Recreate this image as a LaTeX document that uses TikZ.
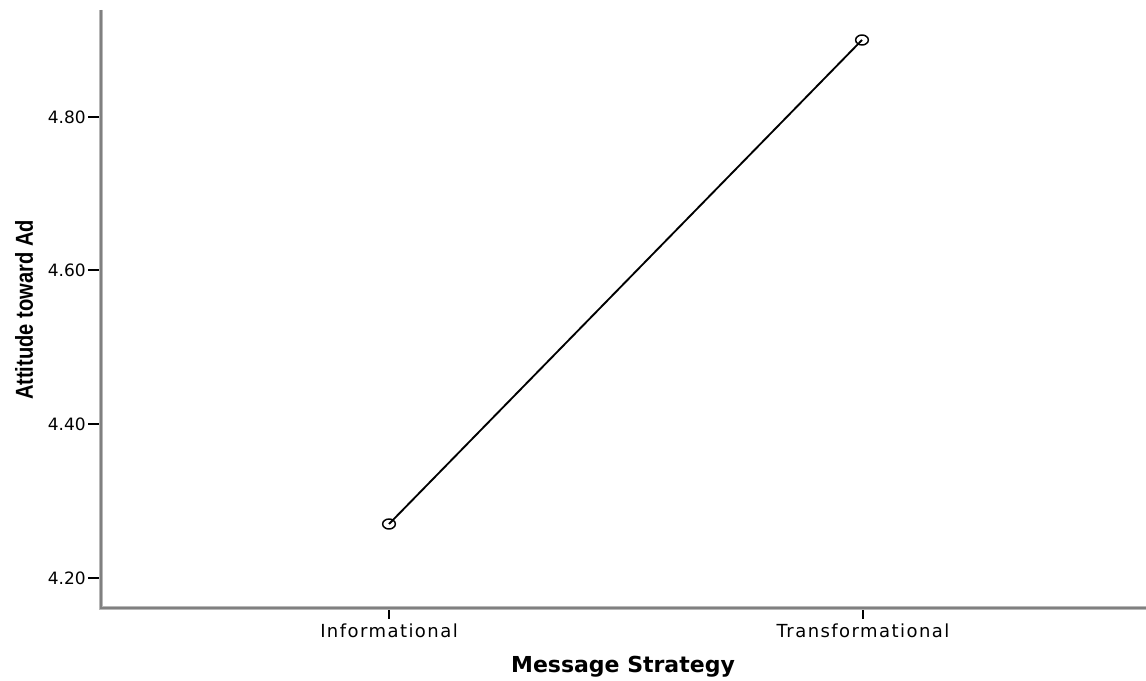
\documentclass[tikz,border=0pt]{standalone}
\usepackage{fontspec}
\setsansfont{DejaVu Sans}
\newfontfamily\spacedfont[LetterSpace=8]{DejaVu Sans}
\newfontfamily\narrowfont[FakeStretch=0.82]{Liberation Sans}
\usetikzlibrary{positioning,shapes.geometric}

\begin{document}
\begin{tikzpicture}[x=0.75pt,y=-0.75pt]

    \tikzstyle{axis}=[draw=black!28,line width=3.2pt]
    \tikzstyle{axis core}=[draw=black!50,line width=1.4pt]
    \tikzstyle{tick}=[line width=1.2pt]
    \tikzstyle{ticklabel}=[font=\sffamily\fontsize{12.75}{14}\selectfont,inner sep=0pt,anchor=east]
    \tikzstyle{catlabel}=[font=\spacedfont\fontsize{13.5}{15}\selectfont,inner sep=0pt,anchor=base]
    \tikzstyle{mean}=[ellipse,draw,line width=1.1pt,minimum width=9.5pt,minimum height=7.5pt,inner sep=0pt]

    \useasboundingbox (0,0) rectangle (1146,681);

    % axes
    \draw[axis] (101,10) -- (101,608) -- (1146,608);
    \draw[axis core] (101,10) -- (101,608) -- (1146,608);
    \foreach \val/\ypos [count=\i] in {4.20/578,4.40/424,4.60/270,4.80/117}
      {\draw[tick] (88,\ypos) -- (99,\ypos);
       \node[ticklabel] (yval\i) at (86,\ypos) {\val};}
    \draw[tick] (389,610) -- (389,619);
    \draw[tick] (863,610) -- (863,619);

    \node[catlabel] (info-label)  at (389,637) {Informational};
    \node[catlabel] (trans-label) at (863,637) {Transformational};

    \node[font=\sffamily\bfseries\fontsize{16.5}{18}\selectfont,inner sep=0pt,anchor=base]
      (xtitle) at (623,672) {Message Strategy};
    \node[font=\narrowfont\bfseries\fontsize{18.4}{20}\selectfont,inner sep=0pt,rotate=90]
      (ytitle) at (24,310) {Attitude toward Ad};

    % means
    \node[mean] (info)  at (389,524) {};
    \node[mean] (trans) at (862,40)  {};
    \draw[line width=1.4pt] (info.center) -- (trans.center);

\end{tikzpicture}
\end{document}
